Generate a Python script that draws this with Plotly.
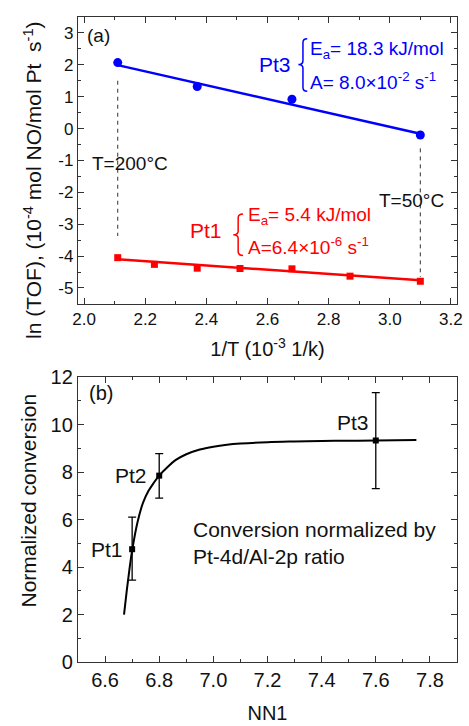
import plotly.graph_objects as go

# panel (a): Arrhenius data
pt3_x = [2.11, 2.37, 2.68, 3.10]
pt3_y = [2.07, 1.32, 0.92, -0.20]
pt3_fit_x = [2.11, 3.10]
pt3_fit_y = [1.99, -0.16]

pt1_x = [2.11, 2.23, 2.37, 2.51, 2.68, 2.87, 3.10]
pt1_y = [-4.05, -4.26, -4.38, -4.39, -4.40, -4.63, -4.79]
pt1_fit_x = [2.11, 3.10]
pt1_fit_y = [-4.10, -4.76]

guide_x = [2.11, 3.10]
guide_top = [1.50, -0.62]
guide_bottom = [-3.37, -4.66]

ya_ticks = [3, 2, 1, 0, -1, -2, -3, -4, -5]
ya_labels = ["3", "2", "1", "0", "-1", "-2", "-3", "-4", "-5"]

# panel (b): normalized conversion vs NN1
nn1 = [6.70, 6.80, 7.60]
conv = [4.75, 7.85, 9.33]
err_plus = [1.35, 0.93, 2.02]
err_minus = [1.30, 0.95, 2.03]
sample_names = ["Pt1", "Pt2", "Pt3"]

curve_x = [6.67, 6.68, 6.69, 6.70, 6.72, 6.74, 6.76, 6.78, 6.80, 6.83, 6.86,
           6.90, 6.95, 7.00, 7.05, 7.10, 7.20, 7.30, 7.40, 7.50, 7.60, 7.75]
curve_y = [2.0, 3.0, 3.9, 4.7, 5.9, 6.7, 7.2, 7.55, 7.85, 8.2, 8.5,
           8.75, 8.95, 9.07, 9.15, 9.2, 9.26, 9.29, 9.31, 9.32, 9.33, 9.35]

BLUE = "#0000ff"
RED = "#ff0000"
INK = "#111111"
FONT = "Liberation Sans, Arial, sans-serif"

fig = go.Figure()

# dashed temperature guides
for gx, gt, gb in zip(guide_x, guide_top, guide_bottom):
    fig.add_trace(go.Scatter(x=[gx, gx], y=[gt, gb], mode="lines",
                             line=dict(color="#333333", width=1, dash="4px,4px"),
                             xaxis="x", yaxis="y", showlegend=False))

fig.add_trace(go.Scatter(x=pt3_fit_x, y=pt3_fit_y, mode="lines",
                         line=dict(color=BLUE, width=2.5), xaxis="x", yaxis="y", showlegend=False))
fig.add_trace(go.Scatter(x=pt3_x, y=pt3_y, mode="markers",
                         marker=dict(color=BLUE, size=9, symbol="circle"),
                         xaxis="x", yaxis="y", showlegend=False))
fig.add_trace(go.Scatter(x=pt1_fit_x, y=pt1_fit_y, mode="lines",
                         line=dict(color=RED, width=2.5), xaxis="x", yaxis="y", showlegend=False))
fig.add_trace(go.Scatter(x=pt1_x, y=pt1_y, mode="markers",
                         marker=dict(color=RED, size=7, symbol="square"),
                         xaxis="x", yaxis="y", showlegend=False))

fig.add_trace(go.Scatter(x=curve_x, y=curve_y, mode="lines", line=dict(color="black", width=2),
                         line_shape="spline", xaxis="x2", yaxis="y2", showlegend=False))
fig.add_trace(go.Scatter(x=nn1, y=conv, mode="markers",
                         marker=dict(color="black", size=6, symbol="square"),
                         error_y=dict(type="data", array=err_plus, arrayminus=err_minus,
                                      color="black", thickness=1.3, width=4),
                         xaxis="x2", yaxis="y2", showlegend=False))


def axis_style(tick_size, title_size):
    return dict(showline=True, linecolor="#333333", linewidth=1.3, mirror="ticks",
                ticks="inside", ticklen=6, tickwidth=1.2, tickcolor="#333333",
                showgrid=False, zeroline=False,
                tickfont=dict(family=FONT, size=tick_size, color=INK),
                title_font=dict(family=FONT, size=title_size, color=INK))


fig.update_layout(
    width=469, height=726,
    margin=dict(l=78, r=6, t=15, b=59),
    paper_bgcolor="white", plot_bgcolor="white",
    font=dict(family=FONT, color=INK),
    xaxis=dict(domain=[0, 1], anchor="y", range=[1.98, 3.22], dtick=0.2, tickformat=".1f",
               minor=dict(ticks="inside", ticklen=3, dtick=0.1, tickcolor="#333333"),
               title=dict(text="1/T (10<sup>-3</sup> 1/k)", standoff=13), **axis_style(17, 20)),
    yaxis=dict(domain=[0.5552, 1], anchor="x", range=[-5.5, 3.5],
               tickvals=ya_ticks, ticktext=ya_labels,
               minor=dict(ticks="inside", ticklen=3, dtick=0.5, tickcolor="#333333"),
               **axis_style(17, 20)),
    xaxis2=dict(domain=[0, 1], anchor="y2", range=[6.5, 7.9], dtick=0.2, tickformat=".1f",
                minor=dict(ticks="inside", ticklen=3, dtick=0.1, tickcolor="#333333"),
                title=dict(text="NN1", standoff=15), **axis_style(20, 20)),
    yaxis2=dict(domain=[0, 0.4417], anchor="x2", range=[0, 12], dtick=2,
                minor=dict(ticks="inside", ticklen=3, dtick=1, tickcolor="#333333"),
                **axis_style(20, 20)),
)

# y titles as rotated annotations so they can sit off-centre like the original
fig.add_annotation(text="ln (TOF), (10<sup>-4</sup> mol NO/mol Pt  s<sup>-1</sup>)",
                   xref="paper", yref="paper", x=-0.1195, y=0.747, textangle=-90,
                   xanchor="center", yanchor="middle", showarrow=False,
                   font=dict(family=FONT, size=21, color=INK))
fig.add_annotation(text="Normalized conversion",
                   xref="paper", yref="paper", x=-0.1299, y=0.25, textangle=-90,
                   xanchor="center", yanchor="middle", showarrow=False,
                   font=dict(family=FONT, size=21, color=INK))

# curly braces next to the fit parameters
fig.add_shape(type="path", xref="x", yref="y",
              path="M 2.730,2.817 Q 2.716,2.817 2.716,2.70 L 2.716,2.13 Q 2.716,2.009 2.701,2.009 "
                   "Q 2.716,2.009 2.716,1.89 L 2.716,1.29 Q 2.716,1.171 2.730,1.171",
              line=dict(color=BLUE, width=1.5))
fig.add_shape(type="path", xref="x", yref="y",
              path="M 2.520,-2.68 Q 2.504,-2.68 2.504,-2.80 L 2.504,-3.21 Q 2.504,-3.33 2.488,-3.33 "
                   "Q 2.504,-3.33 2.504,-3.45 L 2.504,-3.86 Q 2.504,-3.98 2.520,-3.98",
              line=dict(color=RED, width=1.5))


def note(text, x, y, xanchor="left", size=19, color=INK, xref="x", yref="y"):
    fig.add_annotation(text=text, x=x, y=y, xref=xref, yref=yref, xanchor=xanchor,
                       yanchor="middle", showarrow=False,
                       font=dict(family=FONT, size=size, color=color))


note("(a)", 2.004, 2.91)
note("T=200°C", 2.02, -1.10)
note("T=50°C", 3.185, -2.245, xanchor="right")
note("Pt3", 2.685, 2.01, xanchor="right", size=21, color=BLUE)
note("E<sub>a</sub>= 18.3 kJ/mol", 2.733, 2.475, color=BLUE)
note("A= 8.0×10<sup>-2</sup> s<sup>-1</sup>", 2.733, 1.48, color=BLUE)
note("Pt1", 2.459, -3.21, xanchor="right", size=21, color=RED)
note("E<sub>a</sub>= 5.4 kJ/mol", 2.53, -2.74, color=RED)
note("A=6.4×10<sup>-6</sup> s<sup>-1</sup>", 2.53, -3.67, color=RED)

note("(b)", 6.533, 11.33, size=20, xref="x2", yref="y2")
note(sample_names[0], 6.675, 4.75, xanchor="right", size=21, xref="x2", yref="y2")
note(sample_names[1], 6.762, 7.85, xanchor="right", size=21, xref="x2", yref="y2")
note(sample_names[2], 7.515, 10.08, xanchor="center", size=21, xref="x2", yref="y2")
note("Conversion normalized by", 6.918, 5.58, size=21, xref="x2", yref="y2")
note("Pt-4d/Al-2p ratio", 6.918, 4.46, size=21, xref="x2", yref="y2")

# drop the default body margin so the figure fills the window exactly
fig.write_html("out.html", config={"displayModeBar": False},
               post_script="document.body.style.margin='0';")
